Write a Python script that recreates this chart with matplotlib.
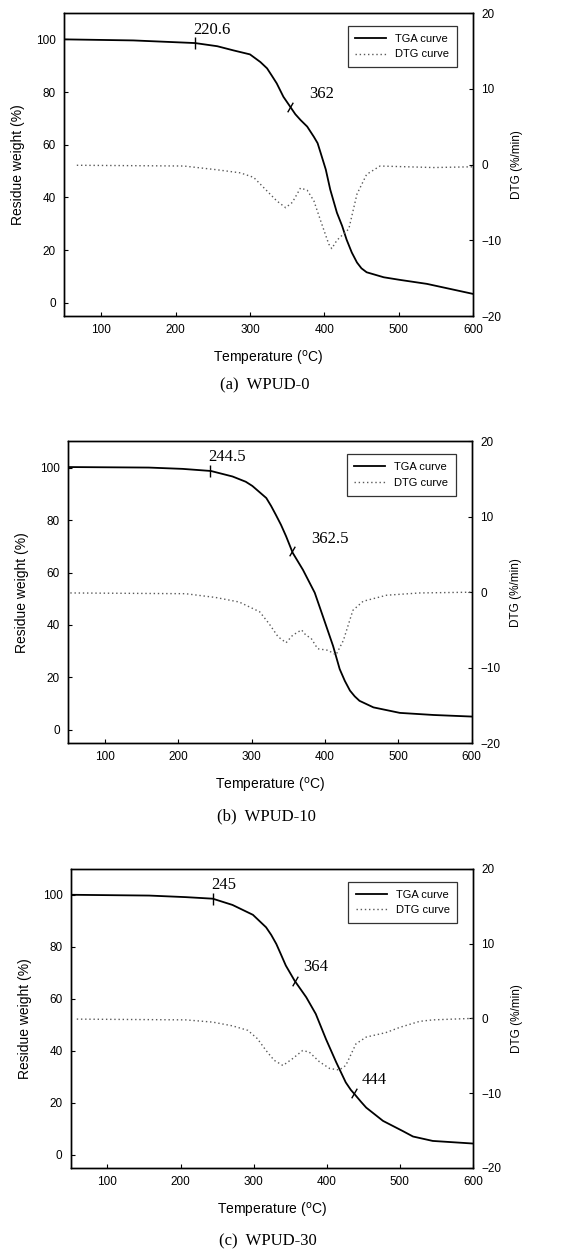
import numpy as np
import matplotlib
matplotlib.use('Agg')
import matplotlib.pyplot as plt

plt.rcParams['font.family'] = ['Liberation Sans', 'DejaVu Sans']

# (a) WPUD-0
tga_a_t = [50, 143, 226, 256, 278, 300, 314, 323, 329, 336, 345, 354, 361, 368, 377, 386, 391, 395, 402, 408,
           417, 424, 430, 437, 444, 450, 457, 480, 502, 538, 600]
tga_a_w = [100, 99.6, 98.6, 97.4, 95.8, 94.3, 91.4, 89, 86.4, 83.3, 78.2, 74.5, 71.6, 69.4, 66.9, 63, 60.6, 57, 50.6, 43,
           34.2, 29.2, 24, 19.1, 15.3, 13.1, 11.6, 9.7, 8.7, 7.2, 3.4]
dtg_a_t = [67, 211, 256, 287, 305, 323, 336, 348, 357, 368, 377, 386, 395, 406, 410, 417, 433, 444, 457, 475, 547, 600]
dtg_a_v = [-0.1, -0.2, -0.7, -1.1, -1.7, -3.5, -4.8, -5.7, -5.0, -3.1, -3.4, -4.8, -7.4, -10.5, -11.1, -10.0, -8.5, -3.9, -1.3, -0.2, -0.4, -0.3]
mark_a_t = [226, 354]
mark_a_lbl = ['220.6', '362']

# (b) WPUD-10
tga_b_t = [50, 160, 206, 244.5, 274, 292, 301, 320, 326.5, 333, 340, 347, 356, 370, 386, 397, 411, 420, 427, 434,
           440.5, 447, 466, 502, 548, 600]
tga_b_w = [100.2, 100, 99.5, 98.7, 96.6, 94.6, 93, 88.4, 85.4, 82, 78.2, 73.8, 67.5, 61, 52.3, 43.4, 32, 23.2, 18.7, 15,
           12.8, 11.1, 8.6, 6.5, 5.7, 5.1]
dtg_b_t = [53, 210, 251, 283, 311, 324, 336, 347, 356, 368, 374, 381, 390, 404, 415, 425, 438, 452, 484, 529, 600]
dtg_b_v = [-0.1, -0.2, -0.7, -1.3, -2.6, -4.2, -5.9, -6.7, -5.7, -5.0, -5.7, -6.1, -7.5, -7.7, -8.3, -6.4, -2.4, -1.2, -0.4, -0.1, 0]
mark_b_t = [243, 355]
mark_b_lbl = ['244.5', '362.5']

# (c) WPUD-30
tga_c_t = [50, 157, 207, 244, 271, 299, 317, 324, 331, 337, 344, 356, 372, 385, 399, 413, 426, 433, 438, 447, 454,
           477, 504, 518, 545, 600]
tga_c_w = [100, 99.7, 99.1, 98.5, 96.1, 92.3, 87.5, 84.6, 81.1, 77.3, 72.8, 67, 60.6, 54.2, 44.5, 35.6, 27.9, 25, 23.4, 20.4, 18.2,
           13.1, 9.2, 7.1, 5.4, 4.4]
dtg_c_t = [58, 207, 244, 271, 292, 305, 317, 328, 340, 353, 367, 376, 390, 404, 417, 426, 440, 454, 481, 500, 527, 545, 600]
dtg_c_v = [-0.1, -0.2, -0.5, -1.0, -1.6, -2.7, -4.3, -5.6, -6.3, -5.4, -4.3, -4.5, -5.8, -6.7, -6.9, -6.3, -3.4, -2.5, -1.9, -1.2, -0.4, -0.2, 0]
mark_c_t = [244, 356, 437]
mark_c_lbl = ['245', '364', '444']

captions = ['(a)  WPUD-0', '(b)  WPUD-10', '(c)  WPUD-30']

panels = [
    (tga_a_t, tga_a_w, dtg_a_t, dtg_a_v, mark_a_t, mark_a_lbl),
    (tga_b_t, tga_b_w, dtg_b_t, dtg_b_v, mark_b_t, mark_b_lbl),
    (tga_c_t, tga_c_w, dtg_c_t, dtg_c_v, mark_c_t, mark_c_lbl),
]

# axes boxes [left, bottom, width, height] and caption y
boxes = [
    [0.114, 0.7476, 0.726, 0.242],
    [0.121, 0.4065, 0.717, 0.241],
    [0.126, 0.0671, 0.714, 0.239],
]
cap_y = [0.6925, 0.348, 0.0088]
cap_x = [0.471, 0.474, 0.476]

fig = plt.figure(figsize=(5.63, 12.52), dpi=100)

serif = ['Liberation Serif', 'DejaVu Serif']

for i, (tt, tw, dt, dv, mt, ml) in enumerate(panels):
    ax = fig.add_axes(boxes[i])
    ax2 = ax.twinx()

    ln1, = ax.plot(tt, tw, color='black', lw=1.3, label='TGA curve')
    ln2, = ax2.plot(dt, dv, color='0.35', lw=1.0, linestyle=(0, (1, 2)), label='DTG curve')

    ax.set_xlim(50, 600)
    ax.set_ylim(-5, 110)
    ax2.set_ylim(-20, 20)
    ax.set_xticks([100, 200, 300, 400, 500, 600])
    ax.set_yticks([0, 20, 40, 60, 80, 100])
    ax2.set_yticks([-20, -10, 0, 10, 20])

    ax.tick_params(direction='in', length=3, width=0.8, labelsize=8.5, pad=6)
    ax2.tick_params(direction='in', length=3, width=0.8, labelsize=8.5, pad=6)
    for a in (ax, ax2):
        for s in a.spines.values():
            s.set_linewidth(1.0)

    ax.set_xlabel('Temperature ($^{\\rm o}$C)', fontsize=10, labelpad=9)
    ax.set_ylabel('Residue weight (%)', fontsize=10, labelpad=8)
    ax2.set_ylabel('DTG (%/min)', fontsize=8.5, labelpad=7)

    # onset / step marks on the TGA curve
    for j, (t, lbl) in enumerate(zip(mt, ml)):
        w = np.interp(t, tt, tw)
        if j == 0:
            ax.plot([t], [w], marker='|', ms=9, mew=1.0, color='black')
            ax.annotate(lbl, (t, w), xytext=(-1, 4), textcoords='offset points',
                        fontsize=12, family=serif, ha='left', va='bottom')
        else:
            ax.plot([t], [w], marker=(2, 0, -30), ms=8, mew=1.0, color='black')
            ax.annotate(lbl, (t, w), xytext=(14 if i < 2 else 6, 3 if i < 2 else 4),
                        textcoords='offset points',
                        fontsize=12, family=serif, ha='left', va='bottom')

    leg = ax.legend(handles=[ln1, ln2], loc='upper right', fontsize=8,
                    frameon=True, fancybox=False, edgecolor='black',
                    handlelength=2.8, borderpad=0.7, bbox_to_anchor=(0.975, 0.975))
    leg.get_frame().set_linewidth(0.9)

    fig.text(cap_x[i], cap_y[i], captions[i], fontsize=12, family=serif,
             ha='center', va='center')

fig.savefig('out.png', dpi=100)
